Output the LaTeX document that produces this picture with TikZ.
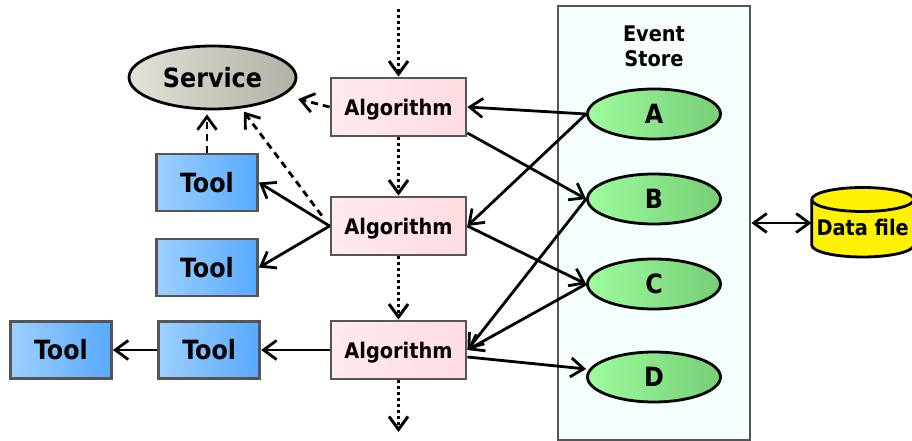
\documentclass[tikz,border=0pt]{standalone}
\usepackage{fontspec}
\setmainfont{DejaVu Sans Condensed}
\usetikzlibrary{arrows.meta,shapes.geometric}

\definecolor{boxgray}{HTML}{555555}
\definecolor{algl}{HTML}{FFEAEC}
\definecolor{algr}{HTML}{FFDCE1}
\definecolor{tooll}{HTML}{9DD0FF}
\definecolor{toolr}{HTML}{58A9FF}
\definecolor{evl}{HTML}{9DFC9D}
\definecolor{evr}{HTML}{76CE76}
\definecolor{srvl}{HTML}{E3E0D7}
\definecolor{srvr}{HTML}{B4B0A5}
\definecolor{storebg}{HTML}{F4FEFF}

\tikzset{
  big/.style={font=\fontsize{26.5}{30}\selectfont\bfseries},
  small/.style={font=\fontsize{21.5}{25}\selectfont\bfseries},
  box/.style={draw=boxgray, line width=2.8pt, inner sep=0pt},
  algbox/.style={box, small, text depth=0pt, minimum width=135pt, minimum height=58pt, left color=algl, right color=algr},
  toolbox/.style={box, big, minimum width=101pt, minimum height=57pt, left color=tooll, right color=toolr},
  evt/.style={ellipse, draw, line width=2.8pt, big, inner sep=0pt, minimum width=133pt, minimum height=50pt, left color=evl, right color=evr},
  srvnode/.style={ellipse, draw, line width=2.8pt, big, inner sep=0pt, minimum width=167pt, minimum height=63pt, left color=srvl, right color=srvr},
  store/.style={draw=boxgray, line width=2.8pt, fill=storebg, minimum width=192pt, minimum height=434pt},
  flow/.style={line width=2.8pt, ->},
  seq/.style={line width=3pt, dash pattern=on 3pt off 3pt, ->},
  use/.style={line width=2.8pt, dash pattern=on 7pt off 5pt, ->},
  >={Straight Barb[length=13pt,width=19pt]}
}

\begin{document}
\begin{tikzpicture}[x=1pt,y=1pt]
\useasboundingbox (0,0) rectangle (912,441);
% event store
\node[store] (store) at (654,218) {};
\node[small, align=center] (ttl) at (654,395) {Event\\Store};
\node[evt] (A) at (654,327) {A};
\node[evt] (B) at (654,242) {B};
\node[evt] (C) at (654,157) {C};
\node[evt] (D) at (654,64) {D};
% data file
\draw[line width=2.8pt, fill=yellow] (811.7,241.5) -- (811.7,196) arc[start angle=180, end angle=360, x radius=51, y radius=12] -- (913.7,241.5) arc[start angle=0, end angle=180, x radius=51, y radius=12] -- cycle;
\draw[line width=2.8pt] (811.7,241.5) arc[start angle=180, end angle=360, x radius=51, y radius=12];
\node[small, inner sep=0pt, minimum width=102pt] (dat) at (862.7,214) {Data file};
% algorithms
\node[algbox] (alg1) at (398.5,334) {Algorithm};
\node[algbox] (alg2) at (398.5,215) {Algorithm};
\node[algbox] (alg3) at (398.5,91) {Algorithm};
% tools and service
\node[toolbox] (tool1) at (207,258.5) {Tool};
\node[toolbox] (tool2) at (207,173.5) {Tool};
\node[toolbox] (tool3) at (209.3,91) {Tool};
\node[toolbox] (tool4) at (61,91) {Tool};
\node[srvnode] (srv) at (212.5,363.5) {Service};
\coordinate (in) at (398.5,432);
\coordinate (out) at (398.5,9);

% sequence
\draw[seq] (in) -- (alg1);
\draw[seq] (alg1) -- (alg2);
\draw[seq] (alg2) -- (alg3);
\draw[seq] (alg3) -- (out);
% events
\draw[flow] (A.west) -- (alg1.east);
\draw[flow] (A.west) -- (alg2.east);
\draw[flow] ([yshift=-26pt]alg1.east) -- (B.west);
\draw[flow] (alg2.east) -- (C.west);
\draw[flow] (B.west) -- (alg3.east);
\draw[flow] (C.west) -- (alg3.east);
\draw[flow] ([yshift=-7pt]alg3.east) -- ([yshift=8pt]D.west);
\draw[flow, <->] (store.east) -- (store.east -| dat.west);
% tools
\draw[flow] (alg2.west) -- (tool1.east);
\draw[flow] (alg2.west) -- (tool2.east);
\draw[flow] (alg3.west) -- (tool3.east);
\draw[flow] (tool3.west) -- (tool4.east);
% service
\draw[use, shorten >=15pt] (alg1.west) -- (srv);
\draw[use, shorten >=4pt] (tool1.north) -- (tool1.north |- srv.south);
\draw[use, shorten <=13pt, shorten >=4pt] (alg2.west) -- (srv.-47);
\end{tikzpicture}
\end{document}
